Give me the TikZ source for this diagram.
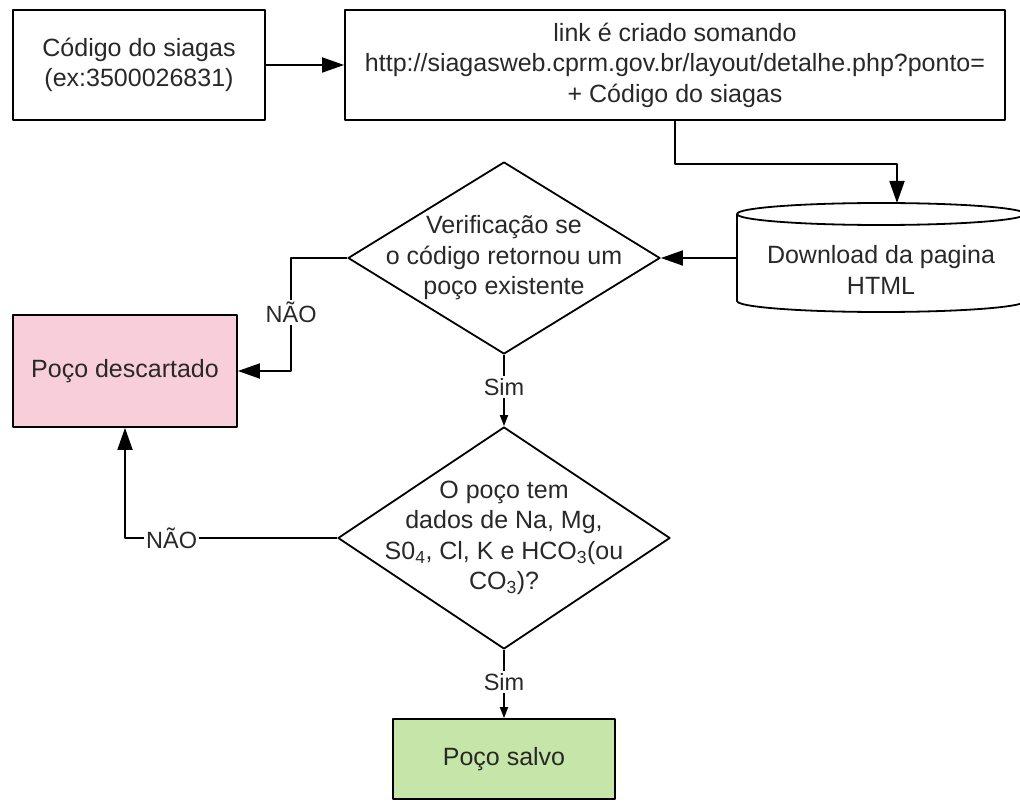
\documentclass[tikz,border=0pt]{standalone}
\usepackage{fontspec}
\setmainfont{Liberation Sans}
\usetikzlibrary{arrows.meta,shapes.geometric,calc}
\definecolor{rosa}{RGB}{248,206,219}
\definecolor{verde}{RGB}{197,230,168}
\definecolor{texto}{RGB}{40,40,40}
\begin{document}
\begin{tikzpicture}[x=1pt,y=-1pt,>={Triangle[length=22pt,width=15pt]}, line width=1.8pt, line join=round,
		font=\fontsize{25pt}{30.5pt}\selectfont,
		caixa/.style={draw,rectangle,align=center,text=texto,inner sep=0pt},
		decisao/.style={draw,diamond,align=center,text=texto,inner xsep=-60pt,inner ysep=-30pt},
		rotulo/.style={fill=white,inner sep=2pt,text=texto,font=\fontsize{23.5pt}{28pt}\selectfont},
		curta/.style={-{Triangle[length=11pt,width=8pt]}}]
			\useasboundingbox (0,0) rectangle (1020,802);
			\node[caixa,minimum width=252pt,minimum height=110pt] (cod) at (139,65) {Código do siagas\\(ex:3500026831)};
			\node[caixa,minimum width=660pt,minimum height=110pt] (link) at (675,65) {link é criado somando\\http://siagasweb.cprm.gov.br/layout/detalhe.php?ponto=\\+ Código do siagas};
			\node[align=center,text=texto,inner sep=0pt,outer sep=0pt,minimum width=288pt,minimum height=84pt] (dl) at (881,270) {Download da pagina\\HTML};
			\draw ([yshift=14pt]dl.north west) -- ([yshift=11pt]dl.south west) arc[start angle=180,end angle=360,x radius=144pt,y radius=11pt] -- ([yshift=14pt]dl.north east);
			\draw ([yshift=14pt]dl.north) ellipse[x radius=144pt,y radius=11pt];
			\coordinate (topo) at ([xshift=16pt,yshift=25pt]dl.north);
			\node[decisao,minimum width=312pt,minimum height=192pt] (ver) at (504,258) {Verificação se\\o código retornou um\\poço existente};
			\node[caixa,fill=rosa,minimum width=224pt,minimum height=112pt] (desc) at (125,371) {Poço descartado};
			\node[decisao,minimum width=332pt,minimum height=222pt] (dados) at (504,538) {O poço tem\\dados de Na, Mg,\\S0\textsubscript{4}, Cl, K e HCO\textsubscript{3}(ou\\CO\textsubscript{3})?};
			\node[caixa,fill=verde,minimum width=222pt,minimum height=80pt] (salvo) at (504,759) {Poço salvo};
			\draw[->] (cod.east) -- (link.west);
			\draw[->] (link.south) -- ++(0,43) -| (topo);
			\draw[->] (dl.west |- ver.east) -- (ver.east);
			\draw[->] (ver.west) -- ++(-56,0) |- node[rotulo,pos=0.24]{NÃO} (desc.east);
			\draw[curta] (ver.south) -- node[rotulo,pos=0.45]{Sim} (dados.north);
			\draw[->] (dados.west) -| node[rotulo,pos=0.39]{NÃO} (desc.south);
			\draw[curta] (dados.south) -- node[rotulo,pos=0.47]{Sim} (salvo.north);
		\end{tikzpicture}
\end{document}
